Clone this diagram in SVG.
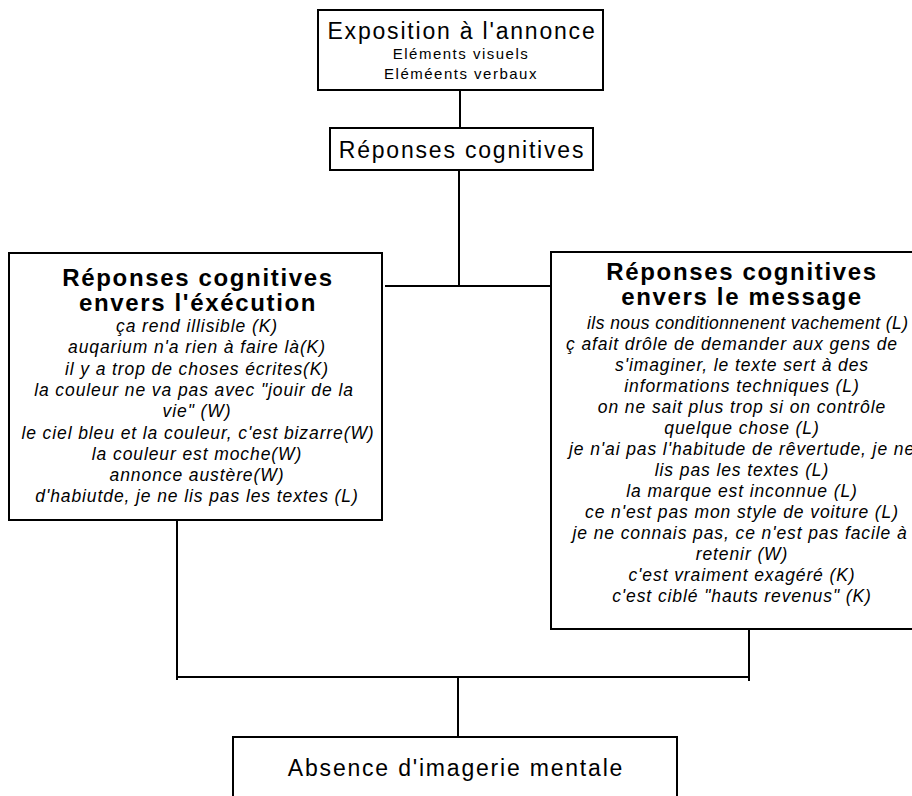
<svg xmlns="http://www.w3.org/2000/svg" width="912" height="796" viewBox="0 0 912 796">
<style>
.box{fill:#fff;stroke:#000;stroke-width:2}
.ln{stroke:#000;stroke-width:2;fill:none}
text{font-family:"Liberation Sans",Arial,sans-serif;fill:#000;text-anchor:middle}
.big{font-size:23px;letter-spacing:1.8px}
.sub{font-size:15px;letter-spacing:1.5px}
.bt{font-size:24px;font-weight:bold;letter-spacing:1.65px}
.it{font-size:17.5px;font-style:italic;letter-spacing:0.9px}
</style>
<rect width="912" height="796" fill="#fff"/>
<g id="connectors">
<line class="ln" x1="460" y1="90" x2="460" y2="128"/>
<line class="ln" x1="459" y1="170" x2="459" y2="286"/>
<line class="ln" x1="385" y1="286" x2="551" y2="286"/>
<line class="ln" x1="177" y1="520" x2="177" y2="680"/>
<line class="ln" x1="749" y1="629" x2="749" y2="681"/>
<line class="ln" x1="177" y1="677" x2="749" y2="677"/>
<line class="ln" x1="458" y1="677" x2="458" y2="737"/>
</g>
<g id="n_exposition">
<rect class="box" x="318" y="10" width="285" height="80"/>
<text class="big" x="462" y="39">Exposition à l'annonce</text>
<text class="sub" x="461" y="59">Eléments visuels</text>
<text class="sub" x="461" y="79">Eléméents verbaux</text>
</g>
<g id="n_reponses">
<rect class="box" x="330" y="128" width="263" height="42"/>
<text class="big" x="462" y="158">Réponses cognitives</text>
</g>
<g id="n_execution">
<rect class="box" x="9" y="253" width="373" height="267"/>
<text class="bt" x="198" y="286">Réponses cognitives</text>
<text class="bt" x="198" y="311">envers l'éxécution</text>
<text class="it" x="197" y="332">ça rend illisible (K)</text>
<text class="it" x="197" y="353">auqarium n'a rien à faire là(K)</text>
<text class="it" x="197" y="375">il y a trop de choses écrites(K)</text>
<text class="it" x="194" y="396">la couleur ne va pas avec "jouir de la</text>
<text class="it" x="197" y="417">vie" (W)</text>
<text class="it" x="198" y="439">le ciel bleu et la couleur, c'est bizarre(W)</text>
<text class="it" x="197" y="460">la couleur est moche(W)</text>
<text class="it" x="197" y="481">annonce austère(W)</text>
<text class="it" x="197" y="502">d'habiutde, je ne lis pas les textes (L)</text>
</g>
<g id="n_message">
<rect class="box" x="551" y="252" width="400" height="377"/>
<text class="bt" x="742" y="280">Réponses cognitives</text>
<text class="bt" x="742" y="305">envers le message</text>
<text class="it" x="748" y="329" textLength="322" lengthAdjust="spacing">ils nous conditionnenent vachement (L)</text>
<text class="it" x="732" y="350">ç afait drôle de demander aux gens de</text>
<text class="it" x="742" y="371">s'imaginer, le texte sert à des</text>
<text class="it" x="742" y="392">informations techniques (L)</text>
<text class="it" x="742" y="413">on ne sait plus trop si on contrôle</text>
<text class="it" x="742" y="434">quelque chose (L)</text>
<text class="it" x="742" y="455">je n'ai pas l'habitude de rêvertude, je ne</text>
<text class="it" x="742" y="476">lis pas les textes (L)</text>
<text class="it" x="742" y="497">la marque est inconnue (L)</text>
<text class="it" x="742" y="518">ce n'est pas mon style de voiture (L)</text>
<text class="it" x="740" y="539">je ne connais pas, ce n'est pas facile à</text>
<text class="it" x="742" y="560">retenir (W)</text>
<text class="it" x="742" y="581">c'est vraiment exagéré (K)</text>
<text class="it" x="742" y="602">c'est ciblé "hauts revenus" (K)</text>
</g>
<g id="n_absence">
<rect class="box" x="233" y="737" width="444" height="80"/>
<text class="big" x="456" y="776">Absence d'imagerie mentale</text>
</g>
</svg>
